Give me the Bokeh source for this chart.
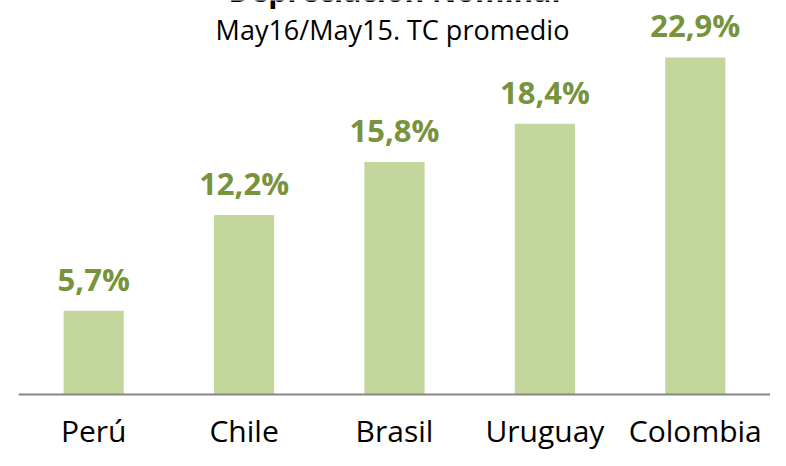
from bokeh.plotting import figure
from bokeh.models import ColumnDataSource, FactorRange, Range1d, Span
from bokeh.core.properties import value
from bokeh.embed import file_html
from bokeh.resources import INLINE

# ---- data ----
countries = ["Perú", "Chile", "Brasil", "Uruguay", "Colombia"]
depreciation = [5.7, 12.2, 15.8, 18.4, 22.9]
value_labels = ["5,7%", "12,2%", "15,8%", "18,4%", "22,9%"]
title_text = "Depreciación Nominal"
subtitle_text = "May16/May15. TC promedio"

BAR = "#c3d69b"
LABEL = "#77933c"
FONT = value("Open Sans")

src = ColumnDataSource(dict(x=countries, top=depreciation, lab=value_labels))

p = figure(
    width=770, height=450,
    x_range=FactorRange(*countries, range_padding=0),
    y_range=Range1d(-3.80, 26.77),
    output_backend="svg", toolbar_location=None,
    min_border_left=18, min_border_right=0, min_border_top=0, min_border_bottom=0,
)
p.outline_line_color = None
p.xgrid.visible = False
p.ygrid.visible = False
p.xaxis.visible = False
p.yaxis.visible = False
p.background_fill_color = "white"
p.border_fill_color = "white"

p.vbar(x="x", top="top", bottom=0, width=0.4, source=src,
       fill_color=BAR, line_color=None)

# baseline axis line
p.add_layout(Span(location=0, dimension="width", line_color="#868686", line_width=2))

# value labels
p.text(x="x", y="top", text="lab", source=src, y_offset=-32,
       text_align="center", text_baseline="alphabetic",
       text_font=FONT, text_font_style="bold", text_font_size="31px",
       text_color=LABEL)

# category labels
p.text(x="x", y=0, text="x", source=src, y_offset=36,
       text_align="center", text_baseline="alphabetic",
       text_font=FONT, text_font_size="30px", text_color="#000000")

# title (cut off at the top, as in the original) and subtitle
ytop = p.y_range.end
p.text(x=["Brasil"], y=[ytop], text=[title_text], x_offset=0, y_offset=-10,
       text_align="center", text_baseline="alphabetic",
       text_font=FONT, text_font_style="bold", text_font_size="30px",
       text_color="#000000")
p.text(x=["Brasil"], y=[ytop], text=[subtitle_text], x_offset=-2, y_offset=29,
       text_align="center", text_baseline="alphabetic",
       text_font=FONT, text_font_size="27px", text_color="#000000")

open("out.html", "w").write(file_html(p, INLINE))
